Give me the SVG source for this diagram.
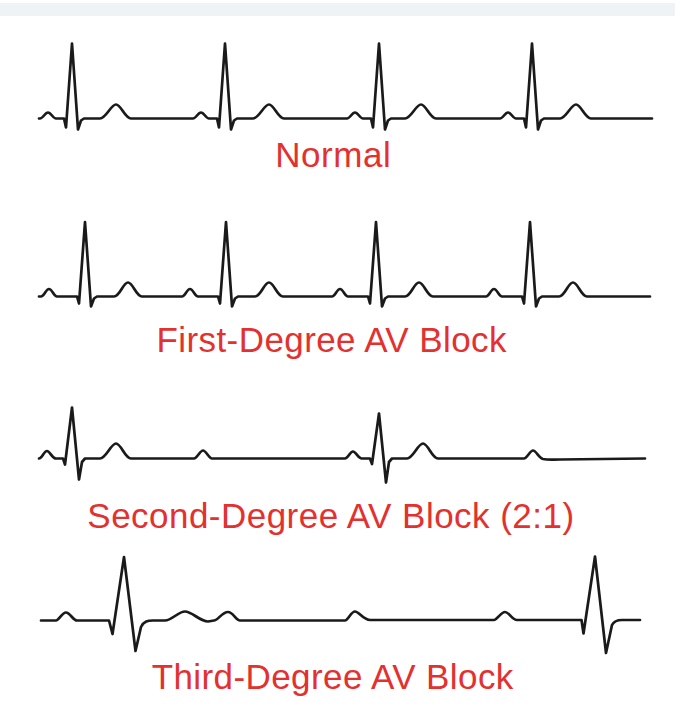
<svg xmlns="http://www.w3.org/2000/svg" width="680" height="719" viewBox="0 0 680 719">
<style>
.trace{fill:none;stroke:#1a1a1a;stroke-width:2.7;stroke-linejoin:round;stroke-linecap:round}
.label{font-family:"Liberation Sans",Arial,sans-serif;font-size:35px;fill:#e3312f;text-anchor:middle}
</style>
<rect x="0" y="0" width="680" height="719" fill="#ffffff"/>
<rect x="0" y="3" width="675" height="13" fill="#eef3f5"/>
<g id="normal">
<path class="trace" d="M39,118.5 L40,118.5 C43,118.5 45,112.5 48,112.5 C51,112.5 53,118.5 56,118.5 L64,118.5 L66,127.5 L72,43.5 L78,129.5 L81,120.5 L84,118.5 L100,118.5 C106,118.5 111,104.5 116,104.5 C121,104.5 125,118.5 131,118.5 L193,118.5 C196,118.5 198,112.5 201,112.5 C204,112.5 206,118.5 209,118.5 L217,118.5 L219,127.5 L225,43.5 L231,129.5 L234,120.5 L237,118.5 L253,118.5 C259,118.5 264,104.5 269,104.5 C274,104.5 278,118.5 284,118.5 L347,118.5 C350,118.5 352,112.5 355,112.5 C358,112.5 360,118.5 363,118.5 L371,118.5 L373,127.5 L379,43.5 L385,129.5 L388,120.5 L391,118.5 L405,118.5 C411,118.5 416,104.5 421,104.5 C426,104.5 430,118.5 436,118.5 L500,118.5 C503,118.5 505,112.5 508,112.5 C511,112.5 513,118.5 516,118.5 L524,118.5 L526,127.5 L532,43.5 L538,129.5 L541,120.5 L544,118.5 L560,118.5 C566,118.5 571,104.5 576,104.5 C581,104.5 585,118.5 591,118.5 L652,118.5"/>
<text class="label" x="333" y="167.3" textLength="115.7">Normal</text>
</g>
<g id="first-degree">
<path class="trace" d="M39,296.5 L41,296.5 C44,296.5 46,289 49,289 C52,289 54,296.5 57,296.5 L77,296.5 L79,303.5 L85,222 L91,306.5 L94,298.5 L97,296.5 L114,296.5 C120,296.5 123,282.5 128,282.5 C133,282.5 136,296.5 142,296.5 L182,296.5 C185,296.5 187,289 190,289 C193,289 195,296.5 198,296.5 L218,296.5 L220,303.5 L226,222 L232,306.5 L235,298.5 L238,296.5 L255,296.5 C261,296.5 264,282.5 269,282.5 C274,282.5 277,296.5 283,296.5 L332,296.5 C335,296.5 337,289 340,289 C343,289 345,296.5 348,296.5 L368,296.5 L370,303.5 L376,222 L382,306.5 L385,298.5 L388,296.5 L405,296.5 C411,296.5 414,282.5 419,282.5 C424,282.5 427,296.5 433,296.5 L486,296.5 C489,296.5 491,289 494,289 C497,289 499,296.5 502,296.5 L522,296.5 L524,303.5 L530,222 L536,306.5 L539,298.5 L542,296.5 L559,296.5 C565,296.5 568,282.5 573,282.5 C578,282.5 581,296.5 587,296.5 L650,296.5"/>
<text class="label" x="331.5" y="352" textLength="350">First-Degree AV Block</text>
</g>
<g id="second-degree">
<path class="trace" d="M39,458.5 C42,458.5 44,451 47,451 C50,451 52,458.5 56,458.5 L63,458.5 L65,464.5 L72,407.5 L79,479.5 L82,462 L85,458.5 L100,458.5 C106,458.5 111,443.5 116,443.5 C121,443.5 125,458.5 131,458.5 L194,458.5 C197,458.5 200,450.5 203,450.5 C206,450.5 209,458.5 212,458.5 L345,458.5 C348,458.5 350,451.5 353,451.5 C356,451.5 358,458.5 362,458.5 L370,458.5 L372,464 L379,413.5 L386,482.5 L389,462 L392,458.5 L407,458.5 C413,458.5 418,443.5 423,443.5 C428,443.5 432,458.5 438,458.5 L524,458.5 C527,458.5 530,450.5 533,450.5 C536,450.5 539,458 543,459 C548,460 552,459.5 560,459.5 L645,458.5"/>
<text class="label" x="330.7" y="527.7" textLength="486.7">Second-Degree AV Block (2:1)</text>
</g>
<g id="third-degree">
<path class="trace" d="M41,620.5 L56,620.5 C59,620.5 62,612.5 66,612.5 C70,612.5 73,620.5 77,620.5 L109,620.5 L112.5,634 L124,557 L135.5,651 L141,627 C144,621 148,620.5 153,620.5 L165,620.5 C172,620.5 178,611.5 185,611.5 C192,611.5 200,621.5 208,621.5 L214,620.5 C218,620.5 222,612 228,612 C233,612 236,620.5 240,620.5 L345,620.5 C348,620.5 351,611.5 355,611.5 C359,611.5 363,620 370,620 L494,620 C497,620 501,612 505,612 C509,612 512,620 517,620 L581.5,620 L583.5,633.5 L595,556.5 L606,653 L612,625 C614,621 617,620 622,620 L640,620"/>
<text class="label" x="332.5" y="689.3" textLength="361.7">Third-Degree AV Block</text>
</g>
</svg>
